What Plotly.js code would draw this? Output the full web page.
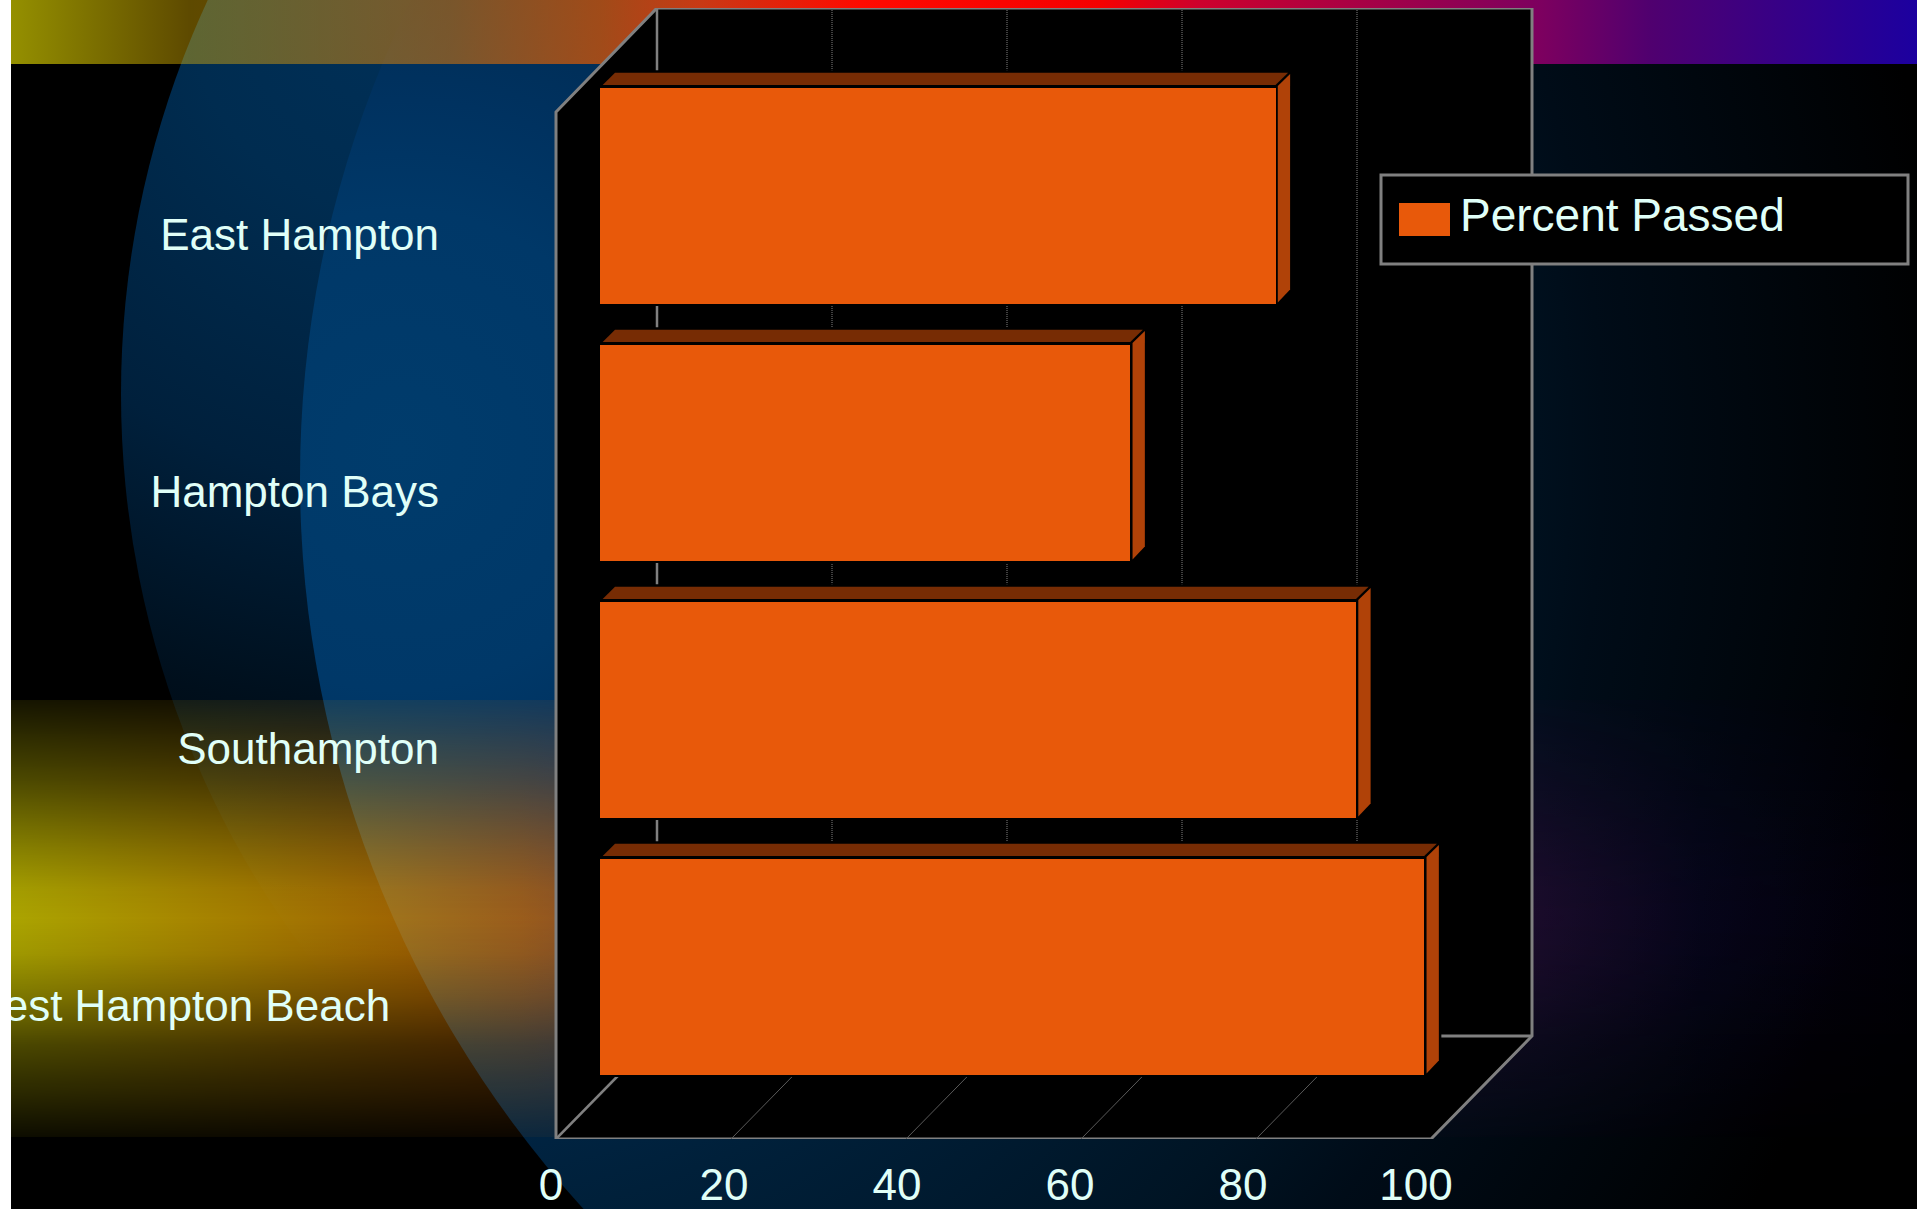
<!DOCTYPE html>
<html><head><meta charset="utf-8">
<script src="https://cdn.plot.ly/plotly-3.0.1.min.js"></script>
<style>
html,body{margin:0;padding:0;width:1917px;height:1209px;overflow:hidden;background:#000}
.bg{position:absolute;left:0;top:0;width:1917px;height:1209px}
#outer{clip-path:circle(938px at 1059px 394px);background:radial-gradient(circle 1000px at 400px 0,#003058 0,#002c50 212px,#00203c 483px,#000f1c 718px,#000 1000px)}
#inner{clip-path:circle(1084px at 1384px 478px);background:radial-gradient(circle 1550px at 400px 450px,#003c6c 0,#003868 240px,#003260 350px,#00203a 776px,#001424 1076px,#000c18 1202px,#000 1550px)}
#top{height:64px;background:linear-gradient(to right,rgba(248,240,0,.6) 11px,rgba(255,200,0,.37) 190px,rgba(240,126,0,.5) 450px,rgba(228,88,0,.7) 600px,rgba(235,60,10,.85) 700px,rgba(255,10,0,1) 860px,rgba(245,0,0,1) 1100px,rgba(205,0,45,1) 1200px,rgba(125,0,95,1) 1540px,rgba(80,0,111,1) 1650px,rgba(28,0,159,1) 1917px)}
#band{top:700px;height:437px;background:linear-gradient(to right,rgba(255,245,0,.67) 11px,rgba(250,205,0,.67) 170px,rgba(240,160,0,.67) 350px,rgba(230,117,0,.67) 520px,rgba(200,40,40,.5) 800px,rgba(60,12,70,.42) 1540px,rgba(20,4,60,.3) 1700px,rgba(0,0,30,.2) 1917px);
-webkit-mask-image:linear-gradient(to bottom,rgba(0,0,0,.12) 0,rgba(0,0,0,.44) 18%,rgba(0,0,0,.78) 34%,rgba(0,0,0,.95) 43%,#000 50%,rgba(0,0,0,.93) 58%,rgba(0,0,0,.72) 68%,rgba(0,0,0,.43) 79%,rgba(0,0,0,.08) 100%);
mask-image:linear-gradient(to bottom,rgba(0,0,0,.12) 0,rgba(0,0,0,.44) 18%,rgba(0,0,0,.78) 34%,rgba(0,0,0,.95) 43%,#000 50%,rgba(0,0,0,.93) 58%,rgba(0,0,0,.72) 68%,rgba(0,0,0,.43) 79%,rgba(0,0,0,.08) 100%)}
#strip{position:absolute;left:0;top:0;width:11px;height:1209px;background:#fff;z-index:5}
#chart{position:absolute;left:0;top:0;width:1917px;height:1209px}
</style></head><body>
<div class="bg" id="outer"></div>
<div class="bg" id="inner"></div>
<div class="bg" id="top"></div>
<div class="bg" id="band"></div>
<div id="chart"></div>
<div id="strip"></div>
<script>
const categories = ["East Hampton","Hampton Bays","Southampton","West Hampton Beach"];
const categoryLabels = ["East Hampton","Hampton Bays","Southampton","West Hampton Beach\u00a0\u00a0\u00a0\u00a0"];
const percentPassed = [77.2, 60.6, 86.4, 94.2];
const xTicks = [0,20,40,60,80,100];
const seriesName = "Percent Passed";

const ORANGE="#E8590A", TOPC="#772C04", SIDE="#B04208", GRAY="#808080", TXT="#E0FFF8";
const L=540,R=1540,T=8,B=1139;
// bar axis: value 0 at px 600, 8.75 px per unit
const X0=600,SX=8.75;
const px2x=p=>(p-X0)/SX;
// category axis: index 0 at px 235, 257 px per category
const Y0=235,SY=257;
const px2y=p=>(p-Y0)/SY;

const barTopPx=88, barHeightPx=215.5;
const shapes=[];
const P=pts=>"M"+pts.map(p=>px2x(p[0])+","+px2y(p[1])).join("L")+"Z";
const pathS=(pts,fill,lw,lc)=>shapes.push({type:"path",xref:"x",yref:"y",path:P(pts),fillcolor:fill,layer:"below",line:{width:lw,color:lc||"rgba(0,0,0,0)"}});
const lineS=(a,b,w,c,dash)=>shapes.push({type:"line",xref:"x",yref:"y",x0:px2x(a[0]),y0:px2y(a[1]),x1:px2x(b[0]),y1:px2y(b[1]),layer:"below",line:{width:w,color:c,dash:dash||"solid"}});

// walls
pathS([[556,112],[657,8],[1532,8],[1532,1036],[1431,1139],[556,1139]],"#000",3,GRAY);
lineS([657,8],[657,1036],2.5,GRAY);
lineS([657,1036],[1532,1036],3,GRAY);
lineS([556,1139],[657,1036],2.5,GRAY);
xTicks.slice(1,5).forEach(t=>{
  const k=t*8.75;
  lineS([657+k,8],[657+k,1036],1,GRAY,"1px,1px");
  lineS([556+k,1139],[657+k,1036],1,"#5a5a5a");
});
// bar depth faces, derived from the values
percentPassed.forEach((v,i)=>{
  const e=X0+SX*v, t=barTopPx+i*SY, b=t+barHeightPx;
  pathS([[X0-1,t-3],[X0+15,t-15.3],[e+14.6,t-15.3],[e+14.6,b-14],[e+2.3,b],[X0-1,b]],"#000",5,"#000");
  pathS([[X0+2.7,t-3],[X0+15,t-15.3],[e+12.6,t-15.3],[e,t-3]],TOPC,0);
  pathS([[e+2.3,t-2],[e+14.6,t-14],[e+14.6,b-14],[e+2.3,b-1]],SIDE,0);
});
// legend frame and swatch
const fx=p=>(p-L)/(R-L), fy=p=>(B-p)/(B-T);
shapes.push({type:"rect",xref:"paper",yref:"paper",x0:fx(1381),x1:fx(1908),y0:fy(175),y1:fy(264),fillcolor:"#000",layer:"above",line:{width:3,color:GRAY}});
shapes.push({type:"rect",xref:"paper",yref:"paper",x0:fx(1399),x1:fx(1450),y0:fy(203),y1:fy(236),fillcolor:ORANGE,layer:"above",line:{width:0}});

const traces=[
 {type:"bar",orientation:"h",name:seriesName,y:categories,x:percentPassed,xaxis:"x",yaxis:"y",
  width:percentPassed.map(()=>barHeightPx/SY),offset:percentPassed.map(()=>px2y(barTopPx)),
  marker:{color:ORANGE,line:{width:0}},hoverinfo:"x+y",showlegend:true},
 {type:"scatter",mode:"markers",x:percentPassed,y:categories,xaxis:"x2",yaxis:"y",marker:{opacity:0,size:1},showlegend:false,hoverinfo:"skip"}
];
const tickFont={family:'"Liberation Sans",Arial,sans-serif',size:44,color:TXT};
const layout={
 width:1917,height:1209,margin:{l:L,r:1917-R,t:T,b:1209-B,pad:0},
 paper_bgcolor:"rgba(0,0,0,0)",plot_bgcolor:"rgba(0,0,0,0)",showlegend:true,bargap:0,
 xaxis:{range:[px2x(L),px2x(R)],showgrid:false,zeroline:false,showticklabels:false,ticks:"",showline:false,domain:[0,1]},
 xaxis2:{overlaying:"x",anchor:"y",side:"bottom",range:[(L-551)/8.65,(R-551)/8.65],tickmode:"array",tickvals:xTicks,ticktext:xTicks.map(String),showgrid:false,zeroline:false,showline:false,ticks:"",tickfont:tickFont,ticklabelstandoff:16},
 yaxis:{type:"category",categoryorder:"array",categoryarray:categories,tickmode:"array",tickvals:categories,ticktext:categoryLabels,range:[px2y(B),px2y(T)],showgrid:false,zeroline:false,showline:false,ticks:"",tickfont:tickFont,ticklabelstandoff:100},
 legend:{x:fx(1420),y:fy(213),xanchor:"left",yanchor:"middle",bgcolor:"rgba(0,0,0,0)",borderwidth:0,font:{family:'"Liberation Sans",Arial,sans-serif',size:46,color:TXT}},
 shapes:shapes
};
Plotly.newPlot("chart",traces,layout,{displayModeBar:false,staticPlot:true});
</script>
</body></html>
